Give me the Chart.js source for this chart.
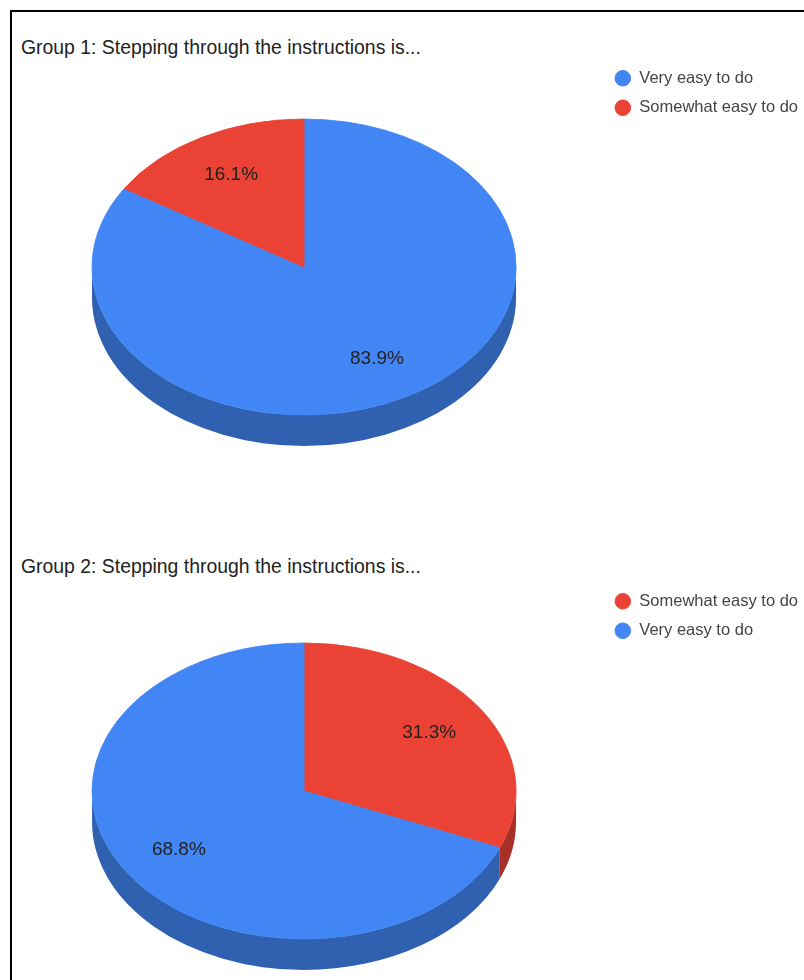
<!DOCTYPE html>
<html>
<head>
<meta charset="utf-8">
<script src="https://cdn.jsdelivr.net/npm/chart.js@4"></script>
<style>
  html, body { margin: 0; padding: 0; background: #fff; overflow: hidden; }
  body { width: 804px; height: 980px; position: relative; }
  .frame {
    position: absolute; left: 10px; top: 10px; right: 0; bottom: 0;
    border-left: 2px solid #000; border-top: 2px solid #000;
  }
  .title {
    position: absolute; left: 21px; margin: 0;
    font: 19.4px 'Liberation Sans', Arial, sans-serif; line-height: 22px;
    color: #222; white-space: nowrap;
  }
  .chart-box { position: absolute; left: 0; width: 824px; }
</style>
</head>
<body>
<div class="frame"></div>

<div class="title" style="top:36px">Group 1: Stepping through the instructions is...</div>
<div class="chart-box" style="top:51px;height:480px"><canvas id="pie1"></canvas></div>

<div class="title" style="top:555px">Group 2: Stepping through the instructions is...</div>
<div class="chart-box" style="top:561px;height:460px"><canvas id="pie2"></canvas></div>

<script>
// survey answers, percent of respondents
var group1Labels = ['Very easy to do', 'Somewhat easy to do'];
var group1Values = [83.9, 16.1];

var group2Labels = ['Somewhat easy to do', 'Very easy to do'];
var group2Values = [31.3, 68.8];

var answerColors = {
  'Very easy to do': '#4285f4',
  'Somewhat easy to do': '#ea4335'
};

Chart.defaults.font.family = "'Liberation Sans', Arial, sans-serif";

// darken a #rrggbb colour for the side wall of the pie
function shade(hex, f) {
  var n = parseInt(hex.slice(1), 16);
  var r = Math.round(((n >> 16) & 255) * f);
  var g = Math.round(((n >> 8) & 255) * f);
  var b = Math.round((n & 255) * f);
  return 'rgb(' + r + ',' + g + ',' + b + ')';
}

// fake 3D: squash the pie vertically and draw the front wall under it
var pie3d = {
  id: 'pie3d',
  beforeDatasetsDraw: function(chart, args, opts) {
    var ctx = chart.ctx;
    var arcs = chart.getDatasetMeta(0).data;
    var cx = arcs[0].x, cy = arcs[0].y;

    arcs.forEach(function(arc) {
      // only the part of the rim facing the viewer (angles 0..PI) is visible
      var a = Math.max(arc.startAngle, 0);
      var b = Math.min(arc.endAngle, Math.PI);
      if (b <= a) return;
      var rx = arc.outerRadius, ry = arc.outerRadius * opts.tilt;
      ctx.beginPath();
      ctx.ellipse(arc.x, arc.y, rx, ry, 0, a, b);
      ctx.ellipse(arc.x, arc.y + opts.depth, rx, ry, 0, b, a, true);
      ctx.closePath();
      ctx.fillStyle = shade(arc.options.backgroundColor, 0.72);
      ctx.fill();
    });

    ctx.save();
    ctx.translate(cx, cy);
    ctx.scale(1, opts.tilt);
    ctx.translate(-cx, -cy);
  },
  afterDatasetsDraw: function(chart, args, opts) {
    var ctx = chart.ctx;
    ctx.restore();

    // percentage labels on the top face
    var meta = chart.getDatasetMeta(0);
    var values = chart.data.datasets[0].data;
    ctx.save();
    ctx.font = '19px ' + Chart.defaults.font.family;
    ctx.fillStyle = '#222';
    ctx.textAlign = 'center';
    ctx.textBaseline = 'middle';
    meta.data.forEach(function(arc, i) {
      var mid = (arc.startAngle + arc.endAngle) / 2;
      var r = arc.outerRadius * 0.71;
      var lx = arc.x + Math.cos(mid) * r;
      var ly = arc.y + Math.sin(mid) * r * opts.tilt;
      ctx.fillText(values[i].toFixed(1) + '%', lx, ly);
    });
    ctx.restore();
  }
};

function makePie(id, labels, values, pad) {
  var colors = labels.map(function(l) { return answerColors[l]; });
  return new Chart(document.getElementById(id), {
    type: 'pie',
    data: {
      labels: labels,
      datasets: [{
        data: values,
        backgroundColor: colors,
        borderColor: colors,
        borderWidth: 1,
        radius: 212,
        clip: false
      }]
    },
    options: {
      responsive: true,
      maintainAspectRatio: false,
      animation: false,
      events: [],
      layout: { padding: pad },
      plugins: {
        pie3d: { depth: 31, tilt: 0.698 },
        tooltip: { enabled: false },
        legend: {
          position: 'right',
          align: 'start',
          labels: {
            usePointStyle: true,
            pointStyle: 'circle',
            boxHeight: 11,
            padding: 13,
            color: '#444',
            font: { size: 16.5 }
          }
        }
      }
    },
    plugins: [pie3d]
  });
}

makePie('pie1', group1Labels, group1Values, { left: 6.5, right: 16, top: 6, bottom: 54 });
makePie('pie2', group2Labels, group2Values, { left: 6.5, right: 16, top: 19, bottom: 19 });
</script>
</body>
</html>
